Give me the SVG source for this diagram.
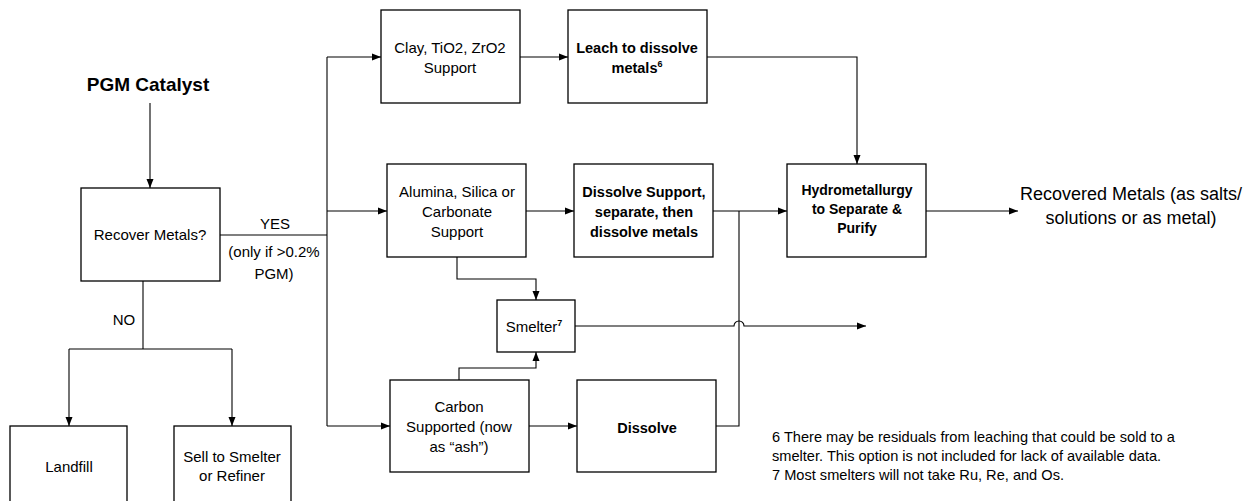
<svg xmlns="http://www.w3.org/2000/svg" width="1259" height="501" viewBox="0 0 1259 501">
<style>
.box{fill:#fff;stroke:#000;stroke-width:1.3}
.ln{fill:none;stroke:#000;stroke-width:1.1}
.t{font-family:"Liberation Sans",Arial,sans-serif;font-size:15px;fill:#000;text-anchor:middle}
.b{font-family:"Liberation Sans",Arial,sans-serif;font-size:14.5px;font-weight:bold;fill:#000;text-anchor:middle}
.fn{font-family:"Liberation Sans",Arial,sans-serif;font-size:14.6px;fill:#000}
</style>
<defs>
<marker id="ah" markerUnits="userSpaceOnUse" markerWidth="10" markerHeight="8" refX="9" refY="4" orient="auto">
<path d="M0,0.5 L9,4 L0,7.5 z" fill="#000"/>
</marker>
</defs>
<rect width="1259" height="501" fill="#fff"/>
<g id="connectors">
<path class="ln" d="M150,103 V188" marker-end="url(#ah)"/>
<path class="ln" d="M220,235 H327"/>
<path class="ln" d="M327,57 V426"/>
<path class="ln" d="M327,57 H381" marker-end="url(#ah)"/>
<path class="ln" d="M327,211 H387" marker-end="url(#ah)"/>
<path class="ln" d="M327,426 H390" marker-end="url(#ah)"/>
<path class="ln" d="M143,281 V349"/>
<path class="ln" d="M69,349 H232"/>
<path class="ln" d="M69,349 V426" marker-end="url(#ah)"/>
<path class="ln" d="M232,349 V426" marker-end="url(#ah)"/>
<path class="ln" d="M520,57 H568" marker-end="url(#ah)"/>
<path class="ln" d="M707,57 H857 V164" marker-end="url(#ah)"/>
<path class="ln" d="M526,211 H574" marker-end="url(#ah)"/>
<path class="ln" d="M713,211 H787" marker-end="url(#ah)"/>
<path class="ln" d="M716,426 H739 V211"/>
<path class="ln" d="M529,426 H577" marker-end="url(#ah)"/>
<path class="ln" d="M457,257 V279 H536 V300" marker-end="url(#ah)"/>
<path class="ln" d="M459,380 V368 H536 V352" marker-end="url(#ah)"/>
<path class="ln" d="M575,326 H734 A5,5 0 0 1 744,326 H866" marker-end="url(#ah)"/>
<path class="ln" d="M926,211 H1018" marker-end="url(#ah)"/>
</g>
<g id="pgm-catalyst">
<text x="148" y="91" class="b" style="font-size:19px">PGM Catalyst</text>
</g>
<g id="recover-metals">
<rect class="box" x="81" y="188" width="139" height="93"/>
<text x="150" y="240" class="t">Recover Metals?</text>
</g>
<g id="yes-label">
<text x="275" y="229" class="t">YES</text>
<text x="274" y="257" class="t">(only if &gt;0.2%</text>
<text x="274" y="279" class="t">PGM)</text>
</g>
<g id="no-label">
<text x="124" y="325" class="t">NO</text>
</g>
<g id="landfill">
<rect class="box" x="10" y="426" width="117" height="80"/>
<text x="69" y="472" class="t">Landfill</text>
</g>
<g id="sell-smelter">
<rect class="box" x="174" y="426" width="117" height="80"/>
<text x="232" y="462" class="t">Sell to Smelter</text>
<text x="232" y="481" class="t">or Refiner</text>
</g>
<g id="clay">
<rect class="box" x="381" y="10" width="139" height="93"/>
<text x="450" y="53" class="t">Clay, TiO2, ZrO2</text>
<text x="450" y="73" class="t">Support</text>
</g>
<g id="leach">
<rect class="box" x="568" y="10" width="139" height="93"/>
<text x="637" y="53" class="b">Leach to dissolve</text>
<text x="637" y="73" class="b">metals<tspan font-size="9" dy="-6">6</tspan></text>
</g>
<g id="alumina">
<rect class="box" x="387" y="164" width="139" height="93"/>
<text x="457" y="197" class="t">Alumina, Silica or</text>
<text x="457" y="217" class="t">Carbonate</text>
<text x="457" y="237" class="t">Support</text>
</g>
<g id="dissolve-support">
<rect class="box" x="574" y="164" width="139" height="93"/>
<text x="644" y="197" class="b">Dissolve Support,</text>
<text x="644" y="217" class="b">separate, then</text>
<text x="644" y="237" class="b">dissolve metals</text>
</g>
<g id="hydro">
<rect class="box" x="787" y="164" width="139" height="93"/>
<text x="857" y="195" class="b" style="font-size:14px">Hydrometallurgy</text>
<text x="857" y="214" class="b" style="font-size:14px">to Separate &amp;</text>
<text x="857" y="233" class="b" style="font-size:14px">Purify</text>
</g>
<g id="recovered">
<text x="1131" y="200" class="t" style="font-size:18px">Recovered Metals (as salts/</text>
<text x="1131" y="224" class="t" style="font-size:18px">solutions or as metal)</text>
</g>
<g id="smelter">
<rect class="box" x="497" y="300" width="78" height="52"/>
<text x="534" y="332" class="t">Smelter<tspan font-size="9" font-weight="bold" dy="-6">7</tspan></text>
</g>
<g id="carbon">
<rect class="box" x="390" y="380" width="139" height="92"/>
<text x="459" y="412" class="t">Carbon</text>
<text x="459" y="432" class="t">Supported (now</text>
<text x="459" y="452" class="t">as “ash”)</text>
</g>
<g id="dissolve">
<rect class="box" x="577" y="380" width="139" height="92"/>
<text x="647" y="433" class="b">Dissolve</text>
</g>
<g id="footnotes">
<text x="772" y="442" class="fn">6 There may be residuals from leaching that could be sold to a</text>
<text x="772" y="461" class="fn">smelter. This option is not included for lack of available data.</text>
<text x="772" y="480" class="fn">7 Most smelters will not take Ru, Re, and Os.</text>
</g>
</svg>
